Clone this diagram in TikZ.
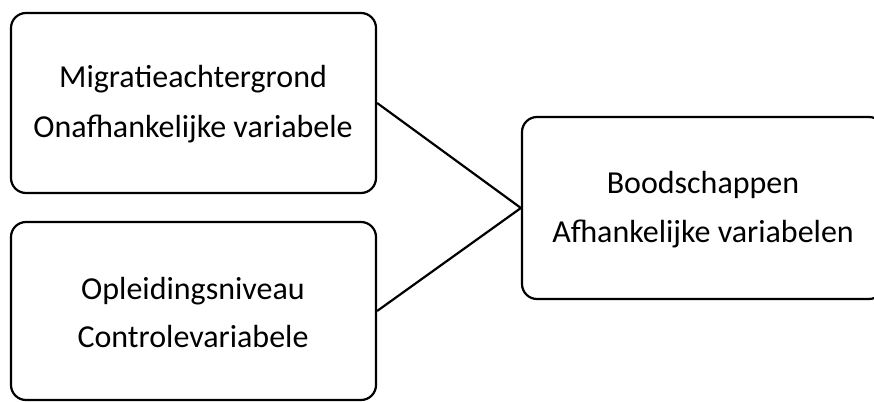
\documentclass[tikz,border=0pt]{standalone}
\usepackage{fontspec}
\setmainfont{Carlito}
\begin{document}
\begin{tikzpicture}[x=1pt,y=-1pt,
  box/.style={draw, line width=2.2pt, rounded corners=15pt, inner sep=0pt},
  lbl/.style={anchor=base, inner sep=0pt, font=\fontsize{32}{38}\selectfont},
  conn/.style={line width=2.2pt}]
\useasboundingbox (0,0) rectangle (874,401);
\clip (0,0) rectangle (874,401);
\node[box, minimum width=365pt, minimum height=180pt] (m) at (193.5,103) {};
\node[box, minimum width=365pt, minimum height=178pt] (o) at (193.5,311) {};
\node[box, minimum width=362pt, minimum height=182pt] (b) at (703,208) {};
\node[lbl] (m1) at (193,88) {Migratieachtergrond};
\node[lbl] (m2) at (193,137) {Onafhankelijke variabele};
\node[lbl] (o1) at (193,299) {Opleidingsniveau};
\node[lbl] (o2) at (193,347) {Controlevariabele};
\node[lbl] (b1) at (703,193) {Boodschappen};
\node[lbl] (b2) at (703,242) {Afhankelijke variabelen};
\draw[conn] (m.east) -- (b.west);
\draw[conn] (o.east) -- (b.west);
\end{tikzpicture}
\end{document}
